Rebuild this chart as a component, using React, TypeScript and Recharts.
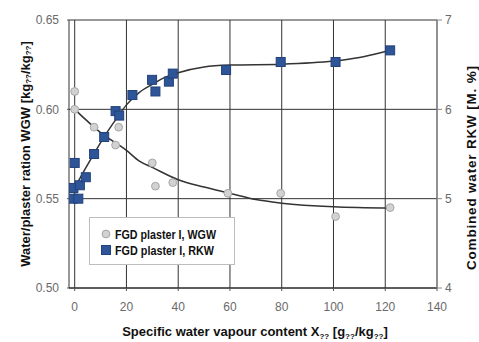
import {
  ComposedChart,
  Scatter,
  Line,
  XAxis,
  YAxis,
  CartesianGrid,
  Label,
} from 'recharts';

const wgwX = [0, 0, 7.5, 15.8, 17, 30, 31.2, 37.9, 59.2, 79.6, 100.8, 121.9];
const wgwY = [0.61, 0.6, 0.59, 0.58, 0.59, 0.57, 0.557, 0.559, 0.553, 0.553, 0.54, 0.545];

const rkwX = [-0.8, 1.4, -0.5, 2.0, 4.3, 0, 7.5, 11.4, 15.8, 17.2, 22.3, 29.9, 31.2, 36.4, 37.9, 58.5, 79.6, 100.8, 121.9];
const rkwY = [5.0, 5.0, 5.12, 5.15, 5.24, 5.4, 5.5, 5.69, 5.98, 5.93, 6.16, 6.33, 6.2, 6.31, 6.4, 6.44, 6.53, 6.53, 6.66];

// trend curves (traced)
const wgwFitX = [0, 10, 20, 25, 30, 40, 50, 60, 70, 80, 100, 122];
const wgwFitY = [0.6, 0.587, 0.577, 0.571, 0.5675, 0.5606, 0.5565, 0.553, 0.5495, 0.5475, 0.5455, 0.5448];
const rkwFitX = [0, 4, 8, 12, 16, 20, 25, 30, 35, 40, 50, 60, 80, 100, 110, 117, 122];
const rkwFitY = [5.12, 5.33, 5.53, 5.72, 5.89, 6.05, 6.19, 6.28, 6.36, 6.41, 6.475, 6.495, 6.505, 6.54, 6.58, 6.625, 6.66];

const xTicks = [0, 20, 40, 60, 80, 100, 120, 140];
const leftTicks = [0.5, 0.55, 0.6, 0.65];
const rightTicks = [4, 5, 6, 7];

const seriesNames = ['FGD plaster I, WGW', 'FGD plaster I, RKW'];

const zip = (xs: number[], ys: number[]) => xs.map((x, i) => ({ x, y: ys[i] }));

const wgwData = zip(wgwX, wgwY);
const rkwData = zip(rkwX, rkwY);
const wgwFit = zip(wgwFitX, wgwFitY);
const rkwFit = zip(rkwFitX, rkwFitY);

const FONT = '"Liberation Sans", Arial, sans-serif';
const BLUE = '#2d5597';
const BLUE_EDGE = '#22417a';
const GREY = '#d2d2d2';
const GREY_EDGE = '#a6a6a6';

const Dot = (p: any) => (
  <circle cx={p.cx} cy={p.cy} r={3.9} fill={GREY} stroke={GREY_EDGE} strokeWidth={1} />
);
const Sq = (p: any) => (
  <rect x={p.cx - 4.5} y={p.cy - 4.5} width={9} height={9} fill={BLUE} stroke={BLUE_EDGE} strokeWidth={1} />
);

const titleStyle = { fontFamily: FONT, fontSize: 13, fontWeight: 700, fill: '#111' };

const LeftTitle = ({ viewBox }: any) => {
  const x = viewBox.x + 25;
  const y = viewBox.y + viewBox.height / 2;
  return (
    <text x={x} y={y} transform={`rotate(-90 ${x} ${y})`} textAnchor="middle" dominantBaseline="central" style={titleStyle}>
      Water/plaster ration WGW [kg
      <tspan dy={3} fontSize={8}>??</tspan>
      <tspan dy={-3}>/kg</tspan>
      <tspan dy={3} fontSize={8}>??</tspan>
      <tspan dy={-3}>]</tspan>
    </text>
  );
};

const RightTitle = ({ viewBox }: any) => {
  const x = viewBox.x + 34.5;
  const y = viewBox.y + viewBox.height / 2 + 14;
  return (
    <text
      x={x}
      y={y}
      transform={`rotate(-90 ${x} ${y})`}
      textAnchor="middle"
      dominantBaseline="central"
      textLength={204}
      lengthAdjust="spacing"
      style={{ ...titleStyle, fontSize: 13.5 }}
    >
      Combined water RKW [M. %]
    </text>
  );
};

const BottomTitle = ({ viewBox }: any) => {
  const x = viewBox.x + viewBox.width / 2 + 2;
  const y = viewBox.y + 48;
  return (
    <text x={x} y={y} textAnchor="middle" style={titleStyle}>
      Specific water vapour content X
      <tspan dy={3} fontSize={8}>??</tspan>
      <tspan dy={-3}> [g</tspan>
      <tspan dy={3} fontSize={8}>??</tspan>
      <tspan dy={-3}>/kg</tspan>
      <tspan dy={3} fontSize={8}>??</tspan>
      <tspan dy={-3}>]</tspan>
    </text>
  );
};

const legendText = { fontFamily: FONT, fontSize: 13, fontWeight: 700, fill: '#111' };

const LegendBox = () => (
  <svg width={146} height={48} style={{ display: 'block', position: 'absolute', left: 89, top: 217 }}>
    <rect x={0.5} y={0.5} width={145} height={47} fill="#fff" stroke="#bdbdbd" />
    <circle cx={17} cy={17} r={3.9} fill={GREY} stroke={GREY_EDGE} />
    <rect x={12.5} y={28.5} width={9} height={9} fill={BLUE} stroke={BLUE_EDGE} />
    <text x={26} y={21.5} textLength={101} lengthAdjust="spacingAndGlyphs" style={legendText}>
      {seriesNames[0]}
    </text>
    <text x={26} y={37.5} textLength={99} lengthAdjust="spacingAndGlyphs" style={legendText}>
      {seriesNames[1]}
    </text>
  </svg>
);

const tickStyle = { fontFamily: FONT, fontSize: 12, fill: '#6a6a6a' };

export default function App() {
  return (
    <div style={{ position: 'absolute', left: 0, top: 0, width: 479, height: 342 }}>
      <ComposedChart width={479} height={342} margin={{ top: 20, right: 0, bottom: 0, left: 0 }}>
        <CartesianGrid yAxisId="l" stroke="#333" strokeWidth={1} />
        <XAxis
          dataKey="x"
          type="number"
          domain={[-2.2, 140]}
          ticks={xTicks}
          allowDataOverflow
          height={54}
          tick={tickStyle}
          tickSize={3}
          tickMargin={11}
          axisLine={{ stroke: '#222' }}
          tickLine={{ stroke: '#555' }}
        >
          <Label content={BottomTitle} />
        </XAxis>
        <YAxis
          yAxisId="l"
          type="number"
          domain={[0.5, 0.65]}
          ticks={leftTicks}
          tickFormatter={(v: number) => v.toFixed(2)}
          width={69}
          tick={tickStyle}
          tickSize={2}
          tickMargin={8}
          axisLine={false}
          tickLine={{ stroke: '#555' }}
        >
          <Label content={LeftTitle} />
        </YAxis>
        <YAxis
          yAxisId="r"
          orientation="right"
          type="number"
          domain={[4, 7]}
          ticks={rightTicks}
          width={42}
          tick={{ ...tickStyle, textAnchor: 'start' }}
          tickSize={5}
          tickMargin={3}
          axisLine={{ stroke: '#8a8a8a' }}
          tickLine={{ stroke: '#8a8a8a' }}
        >
          <Label content={RightTitle} />
        </YAxis>
        <Line
          yAxisId="l"
          data={wgwFit}
          dataKey="y"
          type="monotone"
          stroke="#333"
          strokeWidth={1.5}
          dot={false}
          activeDot={false}
          isAnimationActive={false}
        />
        <Line
          yAxisId="r"
          data={rkwFit}
          dataKey="y"
          type="monotone"
          stroke="#333"
          strokeWidth={1.5}
          dot={false}
          activeDot={false}
          isAnimationActive={false}
        />
        <Scatter yAxisId="l" name={seriesNames[0]} data={wgwData} dataKey="y" shape={Dot} isAnimationActive={false} />
        <Scatter yAxisId="r" name={seriesNames[1]} data={rkwData} dataKey="y" shape={Sq} isAnimationActive={false} />
      </ComposedChart>
      <LegendBox />
    </div>
  );
}
